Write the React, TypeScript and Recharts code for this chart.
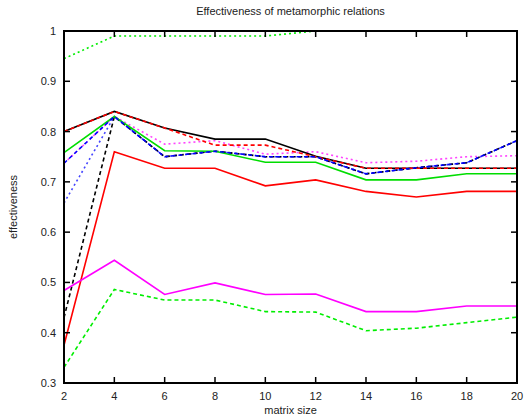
import React from "react";
import { LineChart, Line, XAxis, YAxis } from "recharts";

const sizes = [2, 4, 6, 8, 10, 12, 14, 16, 18, 20];
const yTicks = [0.3, 0.4, 0.5, 0.6, 0.7, 0.8, 0.9, 1];

const greenDotted = [0.945, 0.99, 0.99, 0.99, 0.99, 1.0, 1.0, 1.0, 1.0, 1.0];
const magentaDotted = [0.737, 0.83, 0.775, 0.782, 0.755, 0.76, 0.738, 0.741, 0.75, 0.752];
const blueDotted = [0.658, 0.83, 0.75, 0.761, 0.75, 0.75, 0.716, 0.728, 0.738, 0.782];
const blackDashed = [0.43, 0.83, 0.75, 0.761, 0.75, 0.75, 0.716, 0.728, 0.738, 0.782];
const blackSolid = [0.80, 0.84, 0.807, 0.785, 0.785, 0.751, 0.727, 0.727, 0.727, 0.727];
const redDashed = [0.80, 0.84, 0.807, 0.773, 0.773, 0.75, 0.727, 0.727, 0.727, 0.727];
const greenSolid = [0.758, 0.83, 0.762, 0.761, 0.739, 0.739, 0.704, 0.704, 0.716, 0.716];
const blueDashed = [0.737, 0.83, 0.75, 0.761, 0.75, 0.75, 0.716, 0.728, 0.738, 0.782];
const redSolid = [0.375, 0.76, 0.727, 0.727, 0.692, 0.704, 0.681, 0.67, 0.681, 0.681];
const magentaSolid = [0.484, 0.544, 0.476, 0.499, 0.476, 0.477, 0.442, 0.442, 0.453, 0.453];
const greenDashed = [0.331, 0.486, 0.465, 0.465, 0.442, 0.441, 0.404, 0.409, 0.42, 0.431];

const data = sizes.map((s, i) => ({
  size: s,
  greenDotted: greenDotted[i],
  magentaDotted: magentaDotted[i],
  blueDotted: blueDotted[i],
  blackDashed: blackDashed[i],
  blackSolid: blackSolid[i],
  redDashed: redDashed[i],
  greenSolid: greenSolid[i],
  blueDashed: blueDashed[i],
  redSolid: redSolid[i],
  magentaSolid: magentaSolid[i],
  greenDashed: greenDashed[i],
}));

const series = [
  { key: "greenDotted", color: "#00ee00", dash: "2 3" },
  { key: "magentaDotted", color: "#ff44ff", dash: "2 3" },
  { key: "blueDotted", color: "#4444ff", dash: "2 3" },
  { key: "blackDashed", color: "#000000", dash: "4 3" },
  { key: "blackSolid", color: "#000000", dash: undefined },
  { key: "redDashed", color: "#ff0000", dash: "4 3" },
  { key: "greenSolid", color: "#00dd00", dash: undefined },
  { key: "blueDashed", color: "#0000ff", dash: "4 3" },
  { key: "redSolid", color: "#ff0000", dash: undefined },
  { key: "magentaSolid", color: "#ff00ff", dash: undefined },
  { key: "greenDashed", color: "#00ee00", dash: "4 3" },
];

const font = "'Liberation Sans', Arial, sans-serif";
const TOP = 31;
const BOTTOM = 383;
const LEFT = 64;
const RIGHT = 517;

const XTick = (props: any) => {
  const { x, payload } = props;
  return (
    <g>
      <line x1={x} x2={x} y1={BOTTOM} y2={BOTTOM - 6} stroke="#000" strokeWidth={1.5} />
      <line x1={x} x2={x} y1={TOP} y2={TOP + 6} stroke="#000" strokeWidth={1.5} />
      <text x={x} y={BOTTOM + 17} textAnchor="middle" fontSize={11} fill="#222" fontFamily={font}>
        {payload.value}
      </text>
    </g>
  );
};

const YTick = (props: any) => {
  const { y, payload } = props;
  return (
    <g>
      <line x1={LEFT} x2={LEFT + 6} y1={y} y2={y} stroke="#000" strokeWidth={1.5} />
      <line x1={RIGHT} x2={RIGHT - 6} y1={y} y2={y} stroke="#000" strokeWidth={1.5} />
      <text x={LEFT - 8} y={y + 4} textAnchor="end" fontSize={11} fill="#222" fontFamily={font}>
        {String(payload.value)}
      </text>
    </g>
  );
};

export default function App() {
  return (
    <div style={{ position: "absolute", left: 0, top: 0, width: 526, height: 419, background: "#fff", fontFamily: font }}>
      <div style={{ position: "absolute", left: 64, width: 453, top: 5, textAlign: "center", fontSize: 11, color: "#222" }}>
        Effectiveness of metamorphic relations
      </div>
      <div style={{ position: "absolute", left: 64, width: 453, top: 404, textAlign: "center", fontSize: 11, color: "#222" }}>
        matrix size
      </div>
      <div
        style={{
          position: "absolute",
          left: 13,
          top: 207,
          transform: "translate(-50%, -50%) rotate(-90deg)",
          fontSize: 11,
          color: "#222",
          whiteSpace: "nowrap",
        }}
      >
        effectiveness
      </div>
      <LineChart width={526} height={419} data={data} margin={{ top: TOP, right: 526 - RIGHT, left: 0, bottom: 0 }}>
        <XAxis
          dataKey="size"
          type="number"
          domain={[2, 20]}
          ticks={sizes}
          height={419 - BOTTOM}
          axisLine={false}
          tickLine={false}
          tick={<XTick />}
          interval={0}
        />
        <YAxis
          type="number"
          domain={[0.3, 1]}
          ticks={yTicks}
          width={LEFT}
          axisLine={false}
          tickLine={false}
          tick={<YTick />}
          interval={0}
          allowDataOverflow
        />
        {series.map((s) => (
          <Line
            key={s.key}
            dataKey={s.key}
            stroke={s.color}
            strokeWidth={1.6}
            strokeDasharray={s.dash}
            dot={false}
            activeDot={false}
            isAnimationActive={false}
            type="linear"
          />
        ))}
      </LineChart>
      <div
        style={{
          position: "absolute",
          left: LEFT - 1,
          top: TOP - 1,
          width: RIGHT - LEFT + 2,
          height: BOTTOM - TOP + 2,
          border: "2px solid #000",
          boxSizing: "border-box",
          pointerEvents: "none",
        }}
      />
    </div>
  );
}
